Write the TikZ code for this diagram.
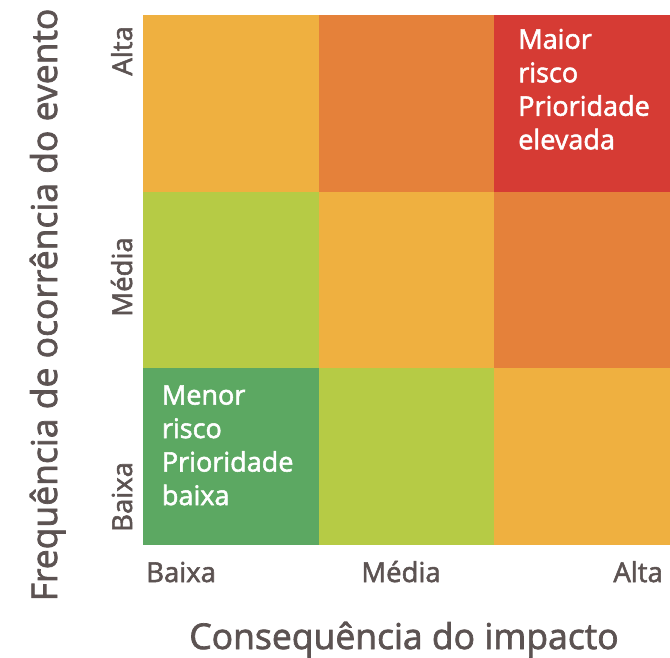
\documentclass[tikz,border=0pt]{standalone}
\usepackage{fontspec}
\setmainfont{Open Sans}
\newfontfamily\semifont[FakeBold=2]{Open Sans}
\definecolor{ambar}{HTML}{EFB040}
\definecolor{laranja}{HTML}{E5813A}
\definecolor{vermelho}{HTML}{D63B34}
\definecolor{lima}{HTML}{B6CB45}
\definecolor{verde}{HTML}{5CA862}
\definecolor{cinza}{HTML}{5C5352}

\begin{document}
\begin{tikzpicture}[x=1pt, y=-1pt,
  cell/.style={rectangle, inner sep=0pt, minimum width=175.8pt, minimum height=176.8pt},
  celltext/.style={anchor=north west, inner sep=0pt, align=left, text=white, font=\semifont\fontsize{27}{33.5}\selectfont},
  tick/.style={inner sep=0pt, text=cinza, font=\semifont\fontsize{27.5}{30}\selectfont},
  axis/.style={inner sep=0pt, text=cinza, font=\semifont\fontsize{35.5}{40}\selectfont}
]
\useasboundingbox (0,0) rectangle (670,657);

% Matrix cells, row by row from the top
\foreach \cor [count=\i from 0] in {ambar,laranja,vermelho,lima,ambar,laranja,verde,lima,ambar} {
  \pgfmathtruncatemacro{\col}{mod(\i,3)}
  \pgfmathtruncatemacro{\lin}{div(\i,3)}
  \node[cell, fill=\cor] (c\lin\col) at (143+87.83+\col*175.67, 15+88.33+\lin*176.67) {};
}

% Cell texts
\node[celltext] (maior) at ([shift={(24,14)}]c02.north west) {Maior\\risco\\Prioridade\\elevada};
\node[celltext] (menor) at ([shift={(19,17)}]c20.north west) {Menor\\risco\\Prioridade\\baixa};

% Horizontal axis
\node[tick, anchor=base west] (xbaixa) at (146,582) {Baixa};
\node[tick, anchor=base] (xmedia) at (401,582) {Média};
\node[tick, anchor=base east] (xalta) at (663,582) {Alta};
\node[axis, anchor=base] (xtitulo) at (404,649) {Consequência do impacto};

% Vertical axis
\node[tick, rotate=90, anchor=base east] (yalta) at (132,26) {Alta};
\node[tick, rotate=90, anchor=base] (ymedia) at (132,277) {Média};
\node[tick, rotate=90, anchor=base west] (ybaixa) at (132,532) {Baixa};
\node[axis, rotate=90, anchor=base] (ytitulo) at (57,305) {Frequência de ocorrência do evento};

\end{tikzpicture}
\end{document}
